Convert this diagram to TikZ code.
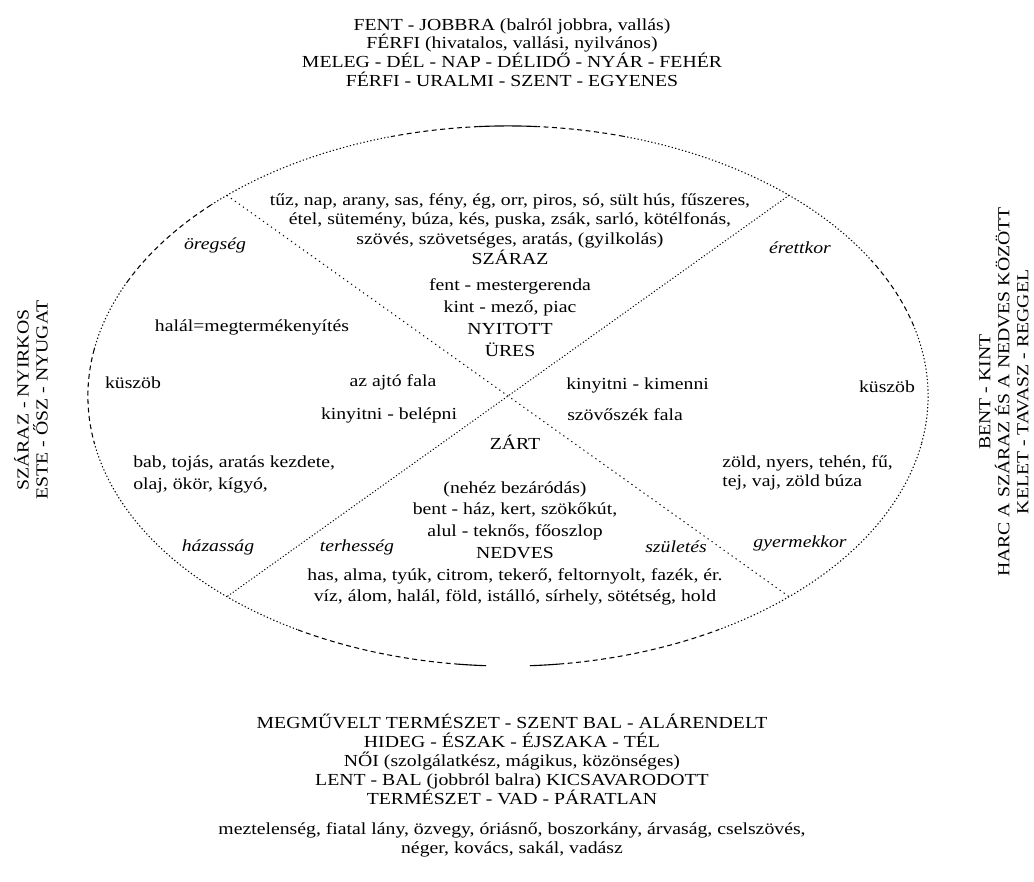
\documentclass[tikz,border=0pt]{standalone}
\usepackage{fontspec}
\setmainfont{Liberation Serif}[FakeStretch=1.17]
\usetikzlibrary{positioning}

\begin{document}
\begin{tikzpicture}[x=0.025cm, y=0.025cm, inner sep=0pt, font=\fontsize{12}{13.5}\selectfont]
	\tikzstyle{txt} = [align=center]
	\tikzstyle{ital} = [font=\fontsize{12}{13.5}\selectfont\itshape]
	\tikzstyle{side} = [align=center, rotate=90]
	\tikzstyle{dotpart} = [line width=0.75pt, dash pattern=on 0.9pt off 1.6pt]
	\tikzstyle{dashpart} = [line width=0.75pt, dash pattern=on 3.5pt off 2.5pt]
	\tikzstyle{fullpart} = [line width=0.8pt]
	\tikzstyle{cross} = [line width=0.7pt]

	\useasboundingbox (0,0) rectangle (1034,882);

	\coordinate (C) at (508,486);
	\path (C) ++(48:10.5cm and 6.75cm) coordinate (ur);
	\path (C) ++(132:10.5cm and 6.75cm) coordinate (ul);
	\path (C) ++(228:10.5cm and 6.75cm) coordinate (ll);
	\path (C) ++(312:10.5cm and 6.75cm) coordinate (lr);

	\foreach \s/\e/\st in {-10/15/dotpart, 15/30/dashpart, 30/74/dotpart, 74/86/dashpart, 86/94/fullpart, 94/106/dashpart, 106/135/dotpart, 135/155/dashpart, 155/170/dotpart, 170/190/dashpart, 190/240/dotpart, 240/263/dashpart, 263/267/fullpart, 273/277/fullpart, 277/300/dashpart, 300/350/dotpart}
		\draw[\st] (C) ++(\s:10.5cm and 6.75cm) arc[start angle=\s, end angle=\e, x radius=10.5cm, y radius=6.75cm];

	\draw[cross, dash pattern=on 0.9pt off 2.6pt] (ul) -- (lr);
	\draw[cross, dash pattern=on 0.8pt off 1.5pt] (ur) -- (ll);

	\node[txt, anchor=north] (top) at (512,864) {FENT - JOBBRA (balról jobbra, vallás)\\ FÉRFI (hivatalos, vallási, nyilvános)\\ MELEG - DÉL - NAP - DÉLIDŐ - NYÁR - FEHÉR\\ FÉRFI - URALMI - SZENT - EGYENES};

	\node[txt, anchor=north, font=\fontsize{12}{14}\selectfont] (dry) at (510,689) {tűz, nap, arany, sas, fény, ég, orr, piros, só, sült hús, fűszeres,\\ étel, sütemény, búza, kés, puska, zsák, sarló, kötélfonás,\\ szövés, szövetséges, aratás, (gyilkolás)\\ SZÁRAZ\\[5pt] fent - mestergerenda\\[1pt] kint - mező, piac\\[2pt] NYITOTT\\[1.5pt] ÜRES};

	\node (death) at (252,555) {halál=megtermékenyítés};
	\node (sillL) at (133,499) {küszöb};
	\node (wallL) at (393,500) {az ajtó fala};
	\node (enter) at (389,467) {kinyitni - belépni};
	\node[align=left, anchor=north west, font=\fontsize{12}{16}\selectfont] (beans) at (133,427) {bab, tojás, aratás kezdete,\\ olaj, ökör, kígyó,};

	\node[anchor=west] (leave) at (566,497) {kinyitni - kimenni};
	\node[anchor=west] (loom) at (567,467) {szövőszék fala};
	\node (sillR) at (887,495) {küszöb};
	\node[align=left, anchor=north west, font=\fontsize{12}{14}\selectfont] (green) at (722,427) {zöld, nyers, tehén, fű,\\ tej, vaj, zöld búza};

	\node (closed) at (515,440) {ZÁRT};
	\node[txt, anchor=north, font=\fontsize{12}{15.5}\selectfont] (wet) at (515,401) {(nehéz bezáródás)\\ bent - ház, kert, szökőkút,\\ alul - teknős, főoszlop\\ NEDVES\\ has, alma, tyúk, citrom, tekerő, feltornyolt, fazék, ér.\\ víz, álom, halál, föld, istálló, sírhely, sötétség, hold};

	\node[ital] (old) at (215,637) {öregség};
	\node[ital] (mature) at (800,634) {érettkor};
	\node[ital] (marriage) at (218,335) {házasság};
	\node[ital] (pregnant) at (357,335) {terhesség};
	\node[ital] (birth) at (676,335) {születés};
	\node[ital] (child) at (800,339) {gyermekkor};

	\node[txt, anchor=north] (bottom) at (512,168) {MEGMŰVELT TERMÉSZET - SZENT BAL - ALÁRENDELT\\ HIDEG - ÉSZAK - ÉJSZAKA - TÉL\\ NŐI (szolgálatkész, mágikus, közönséges)\\ LENT - BAL (jobbról balra) KICSAVARODOTT\\ TERMÉSZET - VAD - PÁRATLAN};
	\node[txt, anchor=north] (people) at (512,60) {meztelenség, fiatal lány, özvegy, óriásnő, boszorkány, árvaság, cselszövés,\\ néger, kovács, sakál, vadász};

	\node[side] (west) at (31,482) {SZÁRAZ - NYIRKOS\\ ESTE - ŐSZ - NYUGAT};
	\node[side] (east) at (1004,490) {BENT - KINT\\ HARC A SZÁRAZ ÉS A NEDVES KÖZÖTT\\ KELET - TAVASZ - REGGEL};
\end{tikzpicture}
\end{document}
